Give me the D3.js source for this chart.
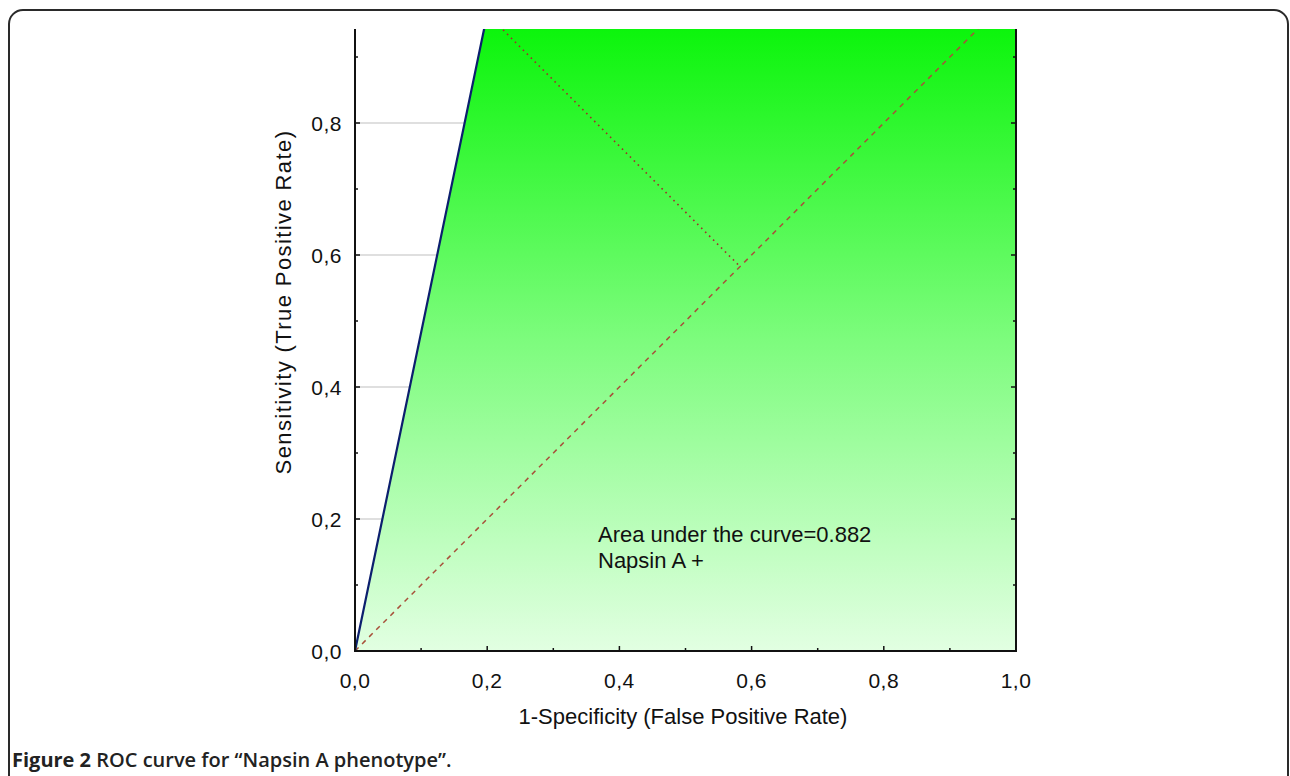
<!DOCTYPE html>
<html>
<head>
<meta charset="utf-8">
<script src="https://cdn.jsdelivr.net/npm/d3@7"></script>
<style>
  body { margin: 0; background: #fff; }
  svg { display: block; }
  .tick-label { font-family: "Liberation Sans", Arial, sans-serif; font-size: 21px; fill: #111; letter-spacing: 0.5px; }
  .axis-title { font-family: "Liberation Sans", Arial, sans-serif; font-size: 22px; fill: #111; }
  .note { font-family: "Liberation Sans", Arial, sans-serif; font-size: 22px; fill: #111; }
  .caption { font-family: "Open Sans", "Noto Sans", sans-serif; font-size: 20px; fill: #222; }
</style>
</head>
<body>
<svg id="chart" width="1290" height="776"></svg>
<script>

//  chart data
var rocFpr = [0, 0.2, 1];          // 1 - specificity
var rocTpr = [0, 0.965, 1];        // sensitivity
var chanceLine = [0, 1];
var cutoffPoint = [0.2, 0.965];
var diagonalFoot = [0.5825, 0.5825];
var majorTicks = [0, 0.2, 0.4, 0.6, 0.8, 1.0];
var minorTicks = [0.1, 0.3, 0.5, 0.7, 0.9];
var gridTicks = [0.2, 0.4, 0.6, 0.8];
var aucText = ['Area under the curve=0.882', 'Napsin A +'];
var xTitle = '1-Specificity (False Positive Rate)';
var yTitle = 'Sensitivity (True Positive Rate)';

var plot = { left: 355, right: 1016, top: 29, bottom: 651 };

var svg = d3.select('#chart');

var x = d3.scaleLinear().domain([0, 1]).range([plot.left, plot.right]);
var y = d3.scaleLinear().domain([0, 1]).range([plot.bottom, plot.bottom - 660]);

var commaFmt = function(v) { return d3.format('.1f')(v).replace('.', ','); };

// figure frame
svg.append('rect')
    .attr('x', 9).attr('y', 10)
    .attr('width', 1279).attr('height', 800)
    .attr('rx', 14).attr('ry', 14)
    .attr('fill', 'none')
    .attr('stroke', '#2a2a2a')
    .attr('stroke-width', 2);

var defs = svg.append('defs');

defs.append('clipPath').attr('id', 'plotclip')
    .append('rect')
    .attr('x', plot.left).attr('y', plot.top)
    .attr('width', plot.right - plot.left)
    .attr('height', plot.bottom - plot.top);

var grad = defs.append('linearGradient')
    .attr('id', 'greenfill')
    .attr('gradientUnits', 'userSpaceOnUse')
    .attr('x1', 0).attr('x2', 0)
    .attr('y1', plot.top).attr('y2', plot.bottom);
grad.append('stop').attr('offset', '0%').attr('stop-color', '#0cf50c');
grad.append('stop').attr('offset', '50%').attr('stop-color', '#7dfc7d');
grad.append('stop').attr('offset', '100%').attr('stop-color', '#e2ffe2');

var g = svg.append('g').attr('clip-path', 'url(#plotclip)');

// gridlines (only visible above the curve)
g.selectAll('.grid')
    .data(gridTicks)
    .enter().append('line')
    .attr('x1', plot.left).attr('x2', plot.right)
    .attr('y1', function(d) { return y(d); })
    .attr('y2', function(d) { return y(d); })
    .attr('stroke', '#d4d4d4')
    .attr('stroke-width', 1.5);

var rocPts = rocFpr.map(function(d, i) { return [d, rocTpr[i]]; });

var area = d3.area()
    .x(function(d) { return x(d[0]); })
    .y0(y(0))
    .y1(function(d) { return y(d[1]); });

g.append('path')
    .datum(rocPts)
    .attr('d', area)
    .attr('fill', 'url(#greenfill)');

// chance diagonal
g.append('line')
    .attr('x1', x(chanceLine[0])).attr('y1', y(chanceLine[0]))
    .attr('x2', x(chanceLine[1])).attr('y2', y(chanceLine[1]))
    .attr('stroke', '#a8503a')
    .attr('stroke-width', 1.5)
    .attr('stroke-dasharray', '5,5');

// distance from cutoff to diagonal
g.append('line')
    .attr('x1', x(cutoffPoint[0])).attr('y1', y(cutoffPoint[1]))
    .attr('x2', x(diagonalFoot[0])).attr('y2', y(diagonalFoot[1]))
    .attr('stroke', '#a0302a')
    .attr('stroke-width', 1.6)
    .attr('stroke-dasharray', '1.6,4');

var line = d3.line()
    .x(function(d) { return x(d[0]); })
    .y(function(d) { return y(d[1]); });

g.append('path')
    .datum(rocPts)
    .attr('d', line)
    .attr('fill', 'none')
    .attr('stroke', '#0c1f6e')
    .attr('stroke-width', 2.2);

// axes lines
var axisColor = '#111';
svg.append('line')
    .attr('x1', plot.left).attr('x2', plot.left)
    .attr('y1', plot.top).attr('y2', plot.bottom + 1)
    .attr('stroke', axisColor).attr('stroke-width', 2);
svg.append('line')
    .attr('x1', plot.right).attr('x2', plot.right)
    .attr('y1', plot.top).attr('y2', plot.bottom + 1)
    .attr('stroke', axisColor).attr('stroke-width', 2);
svg.append('line')
    .attr('x1', plot.left - 1).attr('x2', plot.right + 1)
    .attr('y1', plot.bottom).attr('y2', plot.bottom)
    .attr('stroke', axisColor).attr('stroke-width', 2);

// ticks (pointing inward)
function tickSet(vals, len) {
    var inView = vals.filter(function(d) { return y(d) >= plot.top; });
    svg.selectAll(null).data(vals).enter().append('line')
        .attr('x1', function(d) { return x(d); }).attr('x2', function(d) { return x(d); })
        .attr('y1', plot.bottom).attr('y2', plot.bottom - len)
        .attr('stroke', axisColor).attr('stroke-width', 1.5);
    svg.selectAll(null).data(inView).enter().append('line')
        .attr('x1', plot.left).attr('x2', plot.left + len)
        .attr('y1', function(d) { return y(d); }).attr('y2', function(d) { return y(d); })
        .attr('stroke', axisColor).attr('stroke-width', 1.5);
    svg.selectAll(null).data(inView).enter().append('line')
        .attr('x1', plot.right).attr('x2', plot.right - len)
        .attr('y1', function(d) { return y(d); }).attr('y2', function(d) { return y(d); })
        .attr('stroke', axisColor).attr('stroke-width', 1.5);
}
tickSet(majorTicks, 5);
tickSet(minorTicks, 3);

// tick labels
svg.selectAll('.xlab').data(majorTicks).enter().append('text')
    .attr('class', 'tick-label')
    .attr('x', function(d) { return x(d); })
    .attr('y', 688)
    .attr('text-anchor', 'middle')
    .text(commaFmt);

svg.selectAll('.ylab').data(majorTicks.filter(function(d) { return y(d) >= plot.top; }))
    .enter().append('text')
    .attr('class', 'tick-label')
    .attr('x', plot.left - 13)
    .attr('y', function(d) { return y(d) + 8; })
    .attr('text-anchor', 'end')
    .text(commaFmt);

// axis titles
svg.append('text')
    .attr('class', 'axis-title')
    .attr('x', 683).attr('y', 724)
    .attr('text-anchor', 'middle')
    .text(xTitle);

svg.append('text')
    .attr('class', 'axis-title')
    .attr('transform', 'translate(291,302) rotate(-90)')
    .attr('text-anchor', 'middle')
    .attr('letter-spacing', '1.4px')
    .text(yTitle);

// annotation
svg.selectAll('.note').data(aucText).enter().append('text')
    .attr('class', 'note')
    .attr('x', 598)
    .attr('y', function(d, i) { return 542 + i * 26; })
    .text(function(d) { return d; });

// caption
var cap = svg.append('text')
    .attr('class', 'caption')
    .attr('x', 12).attr('y', 767);
cap.append('tspan').attr('font-weight', 'bold').text('Figure 2 ');
cap.append('tspan').attr('font-weight', 600).text('ROC curve for \u201cNapsin A phenotype\u201d.');

</script>
</body>
</html>
